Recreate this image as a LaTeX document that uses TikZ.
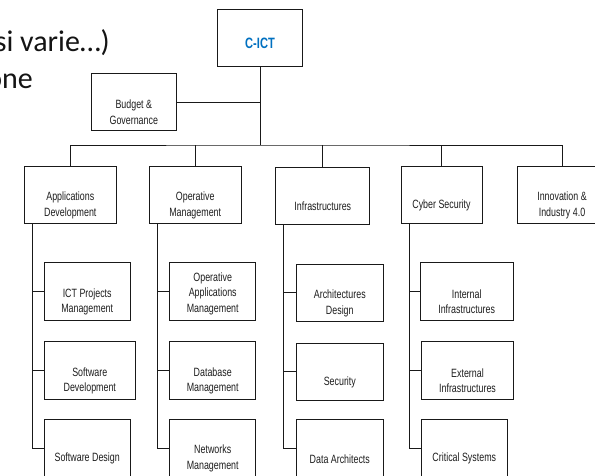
\documentclass[tikz,border=0pt]{standalone}
\usepackage{fontspec}
\setmainfont[FakeStretch=0.74]{Liberation Sans}
\newfontfamily\slidefont{Carlito}
\definecolor{orgblue}{RGB}{0,112,192}
\definecolor{orgline}{RGB}{25,25,25}
\definecolor{orgtext}{RGB}{30,30,30}

\begin{document}
\begin{tikzpicture}[x=1pt,y=-1pt,
  box/.style={draw=orgline, line width=0.9pt, fill=white,
    minimum width=#1, minimum height=57.6pt, inner sep=0pt},
  box/.default=86pt,
  lbl/.style={font=\fontsize{12}{15.5}\selectfont, text=orgtext,
    align=center, yshift=-10.3pt, inner sep=0pt},
  link/.style={draw=orgline, line width=0.9pt},
  slide/.style={anchor=base east, inner sep=0pt, text=black!92,
    font=\slidefont\fontsize{30}{36}\selectfont},
]
\useasboundingbox (0,0) rectangle (595,475);

% slide text running off the left edge
\node[slide] (line1) at (110,51) {si varie…)};
\node[slide] (line2) at (33,88) {one};

% head and staff unit
\node[box=85.6pt, minimum height=57.7pt,
  label={[lbl, yshift=4.3pt, text=orgblue,
    font=\fontsize{15}{18}\selectfont\bfseries]center:C-ICT}]
  (cict) at (260,37.8) {};
\node[box=85.7pt, label={[lbl]center:{Budget \&\\Governance}}]
  (budget) at (133.8,102) {};

% departments
\node[box=92pt, minimum height=57pt, label={[lbl]center:{Applications\\Development}}]
  (appdev) at (70.3,195) {};
\node[box=92.3pt, minimum height=57pt, label={[lbl]center:{Operative\\Management}}]
  (opmgmt) at (195.2,195) {};
\node[box=94pt, minimum height=57pt, label={[lbl]center:{Infrastructures}}]
  (infra) at (322.8,195.8) {};
\node[box=81pt, minimum height=57pt, label={[lbl]center:{Cyber Security}}]
  (cyber) at (441.5,195) {};
\node[box=89pt, minimum height=57pt, label={[lbl]center:{Innovation \&\\Industry 4.0}}]
  (innov) at (562,195) {};

% applications development units
\node[box=85.7pt, label={[lbl]center:{ICT Projects\\Management}}]
  (ictpm) at (87.2,291.5) {};
\node[box=91pt, label={[lbl]center:{Software\\Development}}]
  (swdev) at (89.8,370.5) {};
\node[box=85.7pt, label={[lbl]center:{Software Design}}]
  (swdes) at (87.2,448.1) {};

% operative management units
\node[box=86pt, label={[lbl, yshift=8.3pt]center:{Operative\\Applications\\Management}}]
  (opapp) at (212.7,291.5) {};
\node[box=86pt, label={[lbl]center:{Database\\Management}}]
  (dbm) at (212.7,370.5) {};
\node[box=86pt, label={[lbl]center:{Networks\\Management}}]
  (netm) at (212.7,448.1) {};

% infrastructure units
\node[box=86.3pt, label={[lbl]center:{Architectures\\Design}}]
  (archd) at (339.8,292.9) {};
\node[box=86.3pt, label={[lbl]center:{Security}}]
  (secu) at (339.8,371.9) {};
\node[box=86.3pt, label={[lbl]center:{Data Architects}}]
  (dataa) at (339.8,448.5) {};

% cyber security units
\node[box=92.7pt, label={[lbl]center:{Internal\\Infrastructures}}]
  (intinf) at (466.7,291.5) {};
\node[box=92.4pt, label={[lbl]center:{External\\Infrastructures}}]
  (extinf) at (467.5,370.4) {};
\node[box=86pt, label={[lbl]center:{Critical Systems}}]
  (crit) at (464.3,448.5) {};

% top-level connectors
\coordinate (bus) at (260,145);
\draw[link] (cict.south) -- (bus);
\draw[link] (budget.east) -- (budget.east -| cict.south);
\draw[link] (appdev.north) |- (bus) -| (innov.north);
\draw[link] (opmgmt.north) -- (opmgmt.north |- bus);
\draw[link] (infra.north) -- (infra.north |- bus);
\draw[link] (cyber.north) -- (cyber.north |- bus);

% department trunks
\coordinate (ta) at ([xshift=9pt]appdev.south west);
\coordinate (tb) at ([xshift=8.7pt]opmgmt.south west);
\coordinate (tc) at ([xshift=8pt]infra.south west);
\coordinate (td) at ([xshift=8.7pt]cyber.south west);

\draw[link] (ta) |- (swdes.west);
\draw[link] (ictpm.west) -- (ictpm.west -| ta);
\draw[link] (swdev.west) -- (swdev.west -| ta);

\draw[link] (tb) |- (netm.west);
\draw[link] (opapp.west) -- (opapp.west -| tb);
\draw[link] (dbm.west) -- (dbm.west -| tb);

\draw[link] (tc) |- (dataa.west);
\draw[link] (archd.west) -- (archd.west -| tc);
\draw[link] (secu.west) -- (secu.west -| tc);

\draw[link] (td) |- (crit.west);
\draw[link] (intinf.west) -- (intinf.west -| td);
\draw[link] (extinf.west) -- (extinf.west -| td);
\end{tikzpicture}
\end{document}
